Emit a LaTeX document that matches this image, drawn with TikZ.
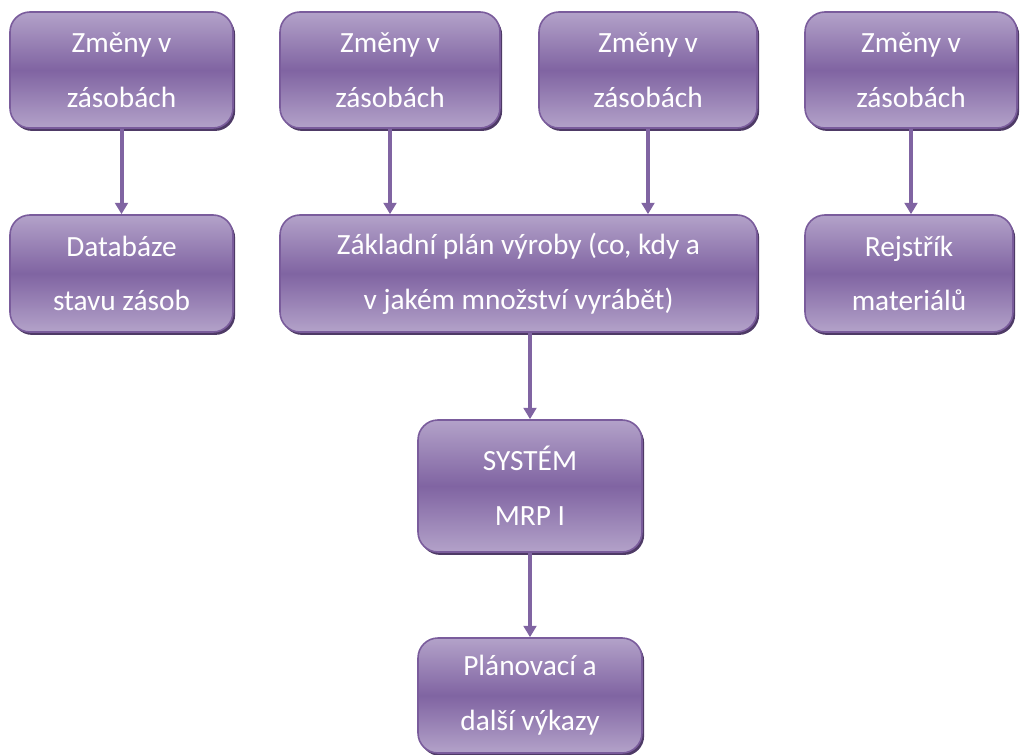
\documentclass[tikz,border=0pt]{standalone}
\usepackage{fontspec}
\setmainfont{Carlito}
\usetikzlibrary{arrows.meta,shadows}
\definecolor{boxlight}{HTML}{B3A2C9}
\definecolor{boxdark}{HTML}{8064A2}
\definecolor{boxborder}{HTML}{7A5C9C}
\definecolor{shadowc}{HTML}{4E3A66}
\definecolor{arrowc}{HTML}{8064A2}
\tikzset{
  box/.style={rounded corners=15pt, draw=boxborder, line width=1.2pt,
    top color=boxlight, bottom color=boxlight, middle color=boxdark,
    text=white, align=center, inner sep=0pt,
    font=\fontsize{22}{41}\selectfont,
    drop shadow={shadow xshift=1.6pt, shadow yshift=-2.2pt, opacity=1, fill=shadowc}},
  conn/.style={draw=arrowc, line width=3pt, -{Triangle[width=9.5pt,length=8.5pt]}}
}
\begin{document}
\begin{tikzpicture}[x=0.75pt,y=-0.75pt]
\useasboundingbox (0,0) rectangle (1020,755);
\node[box, minimum width=167.25pt, minimum height=87pt] (b1) at (121.5,70) {Změny v\\zásobách};
\node[box, minimum width=165pt, minimum height=87pt] (b2) at (390,70) {Změny v\\zásobách};
\node[box, minimum width=163.5pt, minimum height=87pt] (b3) at (648,70) {Změny v\\zásobách};
\node[box, minimum width=159pt, minimum height=87pt] (b4) at (911,70) {Změny v\\zásobách};
\node[box, minimum width=167.25pt, minimum height=87.75pt] (b5) at (121.5,273.5) {Databáze\\stavu zásob};
\node[box, minimum width=357.75pt, minimum height=87.75pt] (b6) at (518.5,273.5) {Základní plán výroby (co, kdy a\\v jakém množství vyrábět)};
\node[box, minimum width=156pt, minimum height=87.75pt] (b7) at (909,273.5) {Rejstřík\\materiálů};
\node[box, minimum width=168pt, minimum height=99pt] (b8) at (530,486) {SYSTÉM\\MRP I};
\node[box, minimum width=168pt, minimum height=86.25pt] (b9) at (530,695.5) {Plánovací a\\další výkazy};
\draw[conn] (b1.south) -- (b5.north);
\draw[conn] (b2.south) -- (b2.south |- b6.north);
\draw[conn] (b3.south) -- (b3.south |- b6.north);
\draw[conn] (b4.south) -- (b4.south |- b7.north);
\draw[conn] (b6.south -| b8.north) -- (b8.north);
\draw[conn] (b8.south) -- (b9.north);
\end{tikzpicture}
\end{document}
